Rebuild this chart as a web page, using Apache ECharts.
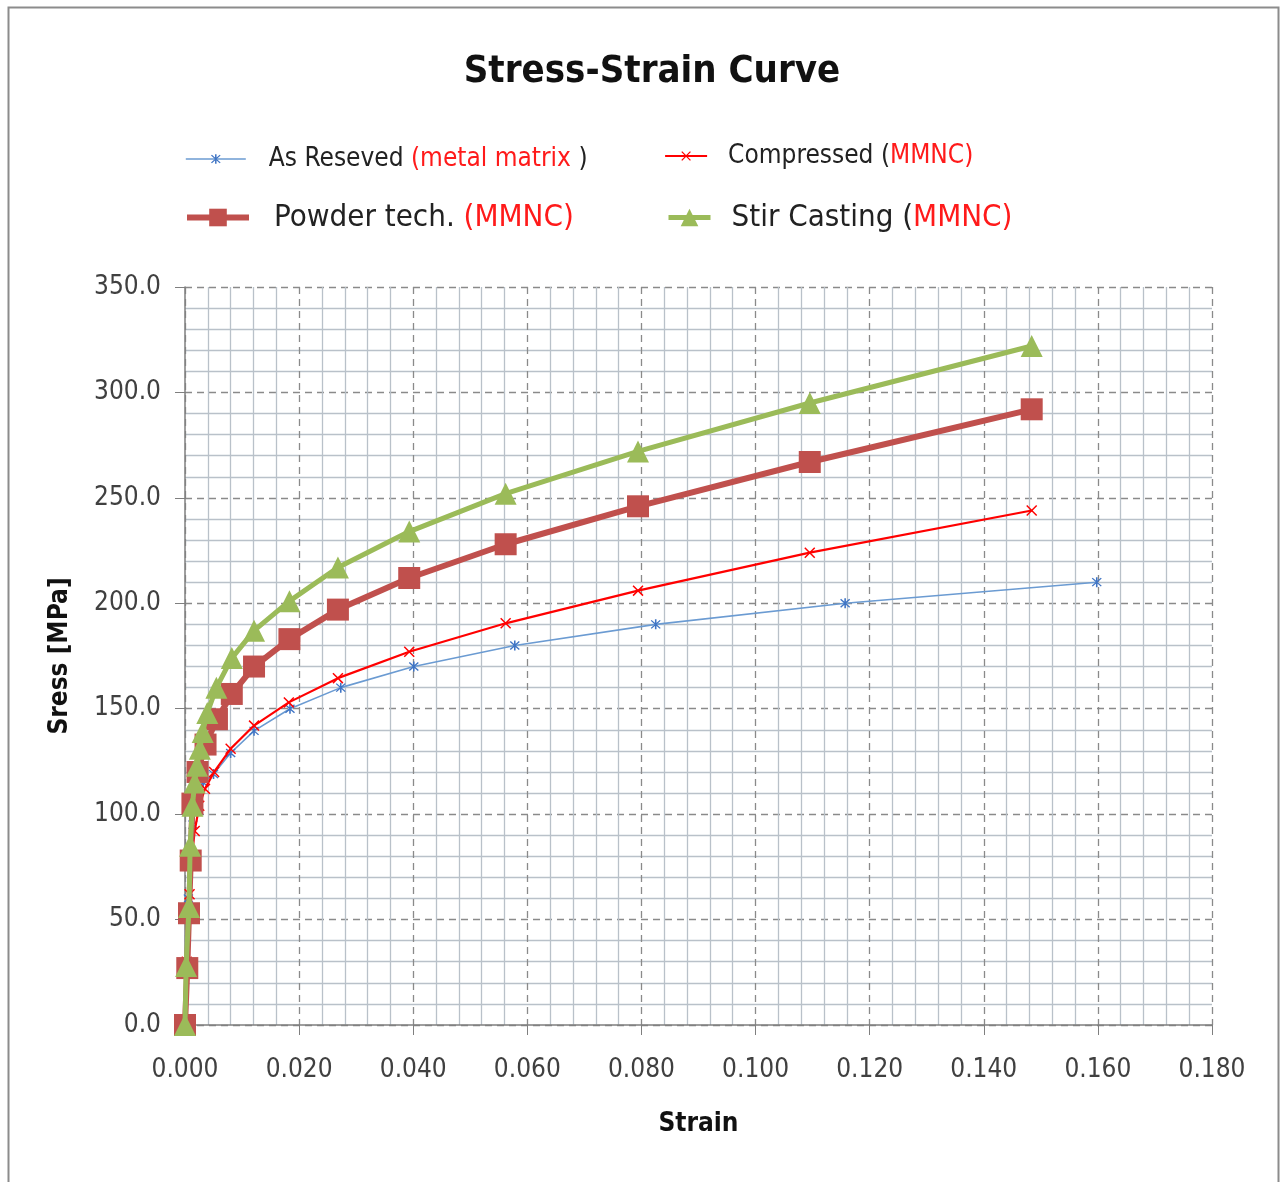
<!DOCTYPE html>
<html>
<head>
<meta charset="utf-8">
<script src="https://cdn.jsdelivr.net/npm/echarts@6/dist/echarts.min.js"></script>
<style>
html,body{margin:0;padding:0;background:#fff;}
#c{width:1280px;height:1182px;}
</style>
</head>
<body>
<div id="c"></div>
<script>
// ---- data ----
const seriesNames = ['As Reseved', 'Compressed', 'Powder tech.', 'Stir Casting'];
const xTicks = [0, 0.02, 0.04, 0.06, 0.08, 0.10, 0.12, 0.14, 0.16, 0.18];
const yTicks = [0, 50, 100, 150, 200, 250, 300, 350];

const asReseved = [
  [0, 0], [0.0003, 30], [0.0006, 60], [0.0009, 80], [0.0014, 95], [0.0021, 106],
  [0.0032, 115], [0.0050, 119], [0.0080, 129], [0.0121, 139.5], [0.0184, 150],
  [0.0273, 160], [0.0401, 170], [0.0578, 180], [0.0825, 190], [0.1157, 200], [0.1598, 210]
];
const compressed = [
  [0, 0], [0.0003, 30], [0.0008, 62], [0.0012, 80], [0.0017, 92], [0.0025, 104],
  [0.0035, 112], [0.0051, 120], [0.0080, 131], [0.0121, 142], [0.0182, 153],
  [0.0268, 164.5], [0.0393, 177], [0.0562, 190.5], [0.0794, 206], [0.1095, 224], [0.1484, 244]
];
const powderTech = [
  [0, 0], [0.0004, 27], [0.0007, 53], [0.0010, 78], [0.0013, 105], [0.0022, 120],
  [0.0036, 133], [0.0056, 145], [0.0082, 157], [0.0121, 170], [0.0183, 183],
  [0.0268, 197], [0.0393, 212], [0.0562, 228], [0.0794, 246], [0.1095, 267], [0.1484, 292]
];
const stirCasting = [
  [0, 0], [0.0002, 28], [0.0007, 56], [0.0009, 85], [0.0013, 104], [0.0017, 115],
  [0.0021, 123], [0.0026, 131], [0.0031, 139], [0.0039, 148], [0.0055, 160],
  [0.0082, 174], [0.0121, 187], [0.0183, 201], [0.0268, 217], [0.0393, 234],
  [0.0562, 252], [0.0794, 272], [0.1095, 295], [0.1484, 322]
];

// ---- styling ----
const FONT = "'Liberation Sans Narrow', 'DejaVu Sans Condensed', 'Open Sans', sans-serif";
const xMark = 'path://M-3.58,-4.42L4.42,3.58L3.58,4.42L-4.42,-3.58Z M-4.42,3.58L3.58,-4.42L4.42,-3.58L-3.58,4.42Z';
const starMark = 'path://M-3.58,-4.42L4.42,3.58L3.58,4.42L-4.42,-3.58Z M-4.42,3.58L3.58,-4.42L4.42,-3.58L-3.58,4.42Z M-0.7,-5L0.7,-5L0.7,5L-0.7,5Z';

const legendText = {
  'As Reseved': '{k|As Reseved }{r|(metal matrix}{k| )}',
  'Compressed': '{k|Compressed (}{r|MMNC)}',
  'Powder tech.': '{k|Powder tech. }{r|(MMNC)}',
  'Stir Casting': '{k|Stir Casting (}{r|MMNC)}'
};

function mkLegend(name, left, top, w, h, fs, pad, lw) {
  return {
    data: [name], left: left, top: top, itemWidth: w, itemHeight: h,
    selectedMode: false, padding: 0,
    lineStyle: { width: lw },
    formatter: n => '{s| }' + legendText[n],
    textStyle: {
      fontFamily: FONT, fontSize: fs,
      rich: {
        s: { width: pad, fontSize: fs, fontFamily: FONT },
        k: { color: '#222', fontSize: fs, fontFamily: FONT },
        r: { color: '#ff1a1a', fontSize: fs, fontFamily: FONT }
      }
    }
  };
}

const chart = echarts.init(document.getElementById('c'), null, { renderer: 'canvas' });
chart.setOption({
  backgroundColor: '#fff',
  animation: false,
  graphic: [{
    type: 'rect', left: 6, top: 5, shape: { width: 1270, height: 1185 },
    style: { fill: 'none', stroke: '#8c8c8c', lineWidth: 2 }, silent: true
  }],
  title: {
    text: 'Stress-Strain Curve', left: 647, top: 48, textAlign: 'center',
    textStyle: { fontFamily: FONT, fontSize: 38, fontWeight: 'bold', color: '#111' }
  },
  legend: [
    mkLegend('As Reseved', 185, 146, 60, 12, 26, 18, 1.6),
    mkLegend('Compressed', 664, 143, 42, 12, 26, 16, 2.2),
    mkLegend('Powder tech.', 184, 202, 62, 22, 31, 20, 6),
    mkLegend('Stir Casting', 666, 202, 42, 22, 31, 16, 5)
  ],
  grid: { left: 185, right: 68, top: 287, bottom: 157 },
  xAxis: {
    type: 'value', min: 0, max: 0.18, interval: 0.02,
    name: 'Strain', nameLocation: 'middle', nameGap: 86,
    nameTextStyle: { fontFamily: FONT, fontSize: 26, fontWeight: 'bold', color: '#111' },
    axisLine: { show: true, onZero: false, lineStyle: { color: '#7f7f7f', width: 1.5 } },
    axisTick: { show: true, length: 10, lineStyle: { color: '#7f7f7f' } },
    axisLabel: {
      margin: 32, fontFamily: FONT, fontSize: 26, color: '#404040',
      formatter: v => v.toFixed(3)
    },
    splitLine: { show: true, lineStyle: { color: '#8a8a8a', type: [7, 5], width: 1.3 } },
    minorTick: { show: false, splitNumber: 5 },
    minorSplitLine: { show: true, lineStyle: { color: '#b9c1c9', width: 1.3 } }
  },
  yAxis: {
    type: 'value', min: 0, max: 350, interval: 50,
    name: 'Sress [MPa]', nameLocation: 'middle', nameGap: 112,
    nameTextStyle: { fontFamily: FONT, fontSize: 26, fontWeight: 'bold', color: '#111' },
    axisLine: { show: true, lineStyle: { color: '#7f7f7f', width: 1.5 } },
    axisTick: { show: true, length: 10, lineStyle: { color: '#7f7f7f' } },
    axisLabel: {
      margin: 24, fontFamily: FONT, fontSize: 26, color: '#404040',
      formatter: v => v.toFixed(1)
    },
    splitLine: { show: true, lineStyle: { color: '#8a8a8a', type: [7, 5], width: 1.3 } },
    minorTick: { show: false, splitNumber: 5 },
    minorSplitLine: { show: true, lineStyle: { color: '#b9c1c9', width: 1.3 } }
  },
  series: [
    {
      name: 'As Reseved', type: 'line', data: asReseved, symbol: starMark, symbolSize: 10,
      lineStyle: { color: '#6b9bd2', width: 1.6 },
      itemStyle: { color: '#3f74c4' }, z: 2
    },
    {
      name: 'Compressed', type: 'line', data: compressed, symbol: xMark, symbolSize: 11,
      lineStyle: { color: '#ff0000', width: 2.2 },
      itemStyle: { color: '#ff0000' }, z: 3
    },
    {
      name: 'Powder tech.', type: 'line', data: powderTech, symbol: 'rect', symbolSize: 22,
      lineStyle: { color: '#c0504d', width: 6 },
      itemStyle: { color: '#c0504d' }, z: 4
    },
    {
      name: 'Stir Casting', type: 'line', data: stirCasting, symbol: 'triangle', symbolSize: 22,
      lineStyle: { color: '#9bbb59', width: 5 },
      itemStyle: { color: '#9bbb59' }, z: 5
    }
  ]
});
</script>
</body>
</html>
